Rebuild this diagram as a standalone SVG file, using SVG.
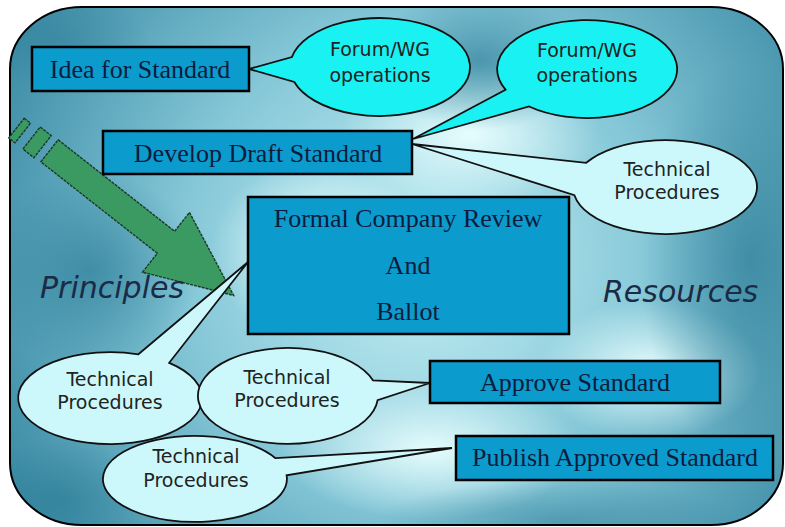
<svg xmlns="http://www.w3.org/2000/svg" width="785" height="527" viewBox="0 0 785 527">
<defs>
<radialGradient id="bg" cx="420" cy="260" r="470" gradientUnits="userSpaceOnUse">
<stop offset="0" stop-color="#c4eff4"/>
<stop offset="0.5" stop-color="#86c8d8"/>
<stop offset="1" stop-color="#3a8aa4"/>
</radialGradient>
<radialGradient id="lt" cx="0.5" cy="0.5" r="0.5">
<stop offset="0" stop-color="#eaffff" stop-opacity="0.95"/>
<stop offset="1" stop-color="#eaffff" stop-opacity="0"/>
</radialGradient>
<radialGradient id="dk" cx="0.5" cy="0.5" r="0.5">
<stop offset="0" stop-color="#2f7f99" stop-opacity="0.7"/>
<stop offset="1" stop-color="#2f7f99" stop-opacity="0"/>
</radialGradient>
<clipPath id="panelClip"><rect x="10" y="7" width="773" height="518" rx="72" ry="62"/></clipPath>
<style>
.box{fill:#0b9bcc;stroke:#000;stroke-width:2.5}
.btxt{font-family:"Liberation Serif","Times New Roman",serif;font-size:26px;fill:#0d1b3e;text-anchor:middle}
.forum{fill:#19f1f3;stroke:#111;stroke-width:1.8}
.tech{fill:#cdf8fb;stroke:#111;stroke-width:1.8}
.ctxt{font-family:"DejaVu Sans","Liberation Sans",sans-serif;font-size:19px;fill:#222;text-anchor:middle}
.big{font-family:"DejaVu Sans","Liberation Sans",sans-serif;font-size:30px;font-style:italic;fill:#1b2b45}
.arrow{fill:#3a9a62;stroke:#1a3a26;stroke-width:1.4;stroke-dasharray:3 1}
</style>
</defs>

<g id="panel">
<rect x="10" y="7" width="773" height="518" rx="72" ry="62" fill="url(#bg)"/>
<g clip-path="url(#panelClip)">
<ellipse cx="470" cy="135" rx="130" ry="70" fill="url(#lt)"/>
<ellipse cx="320" cy="250" rx="110" ry="90" fill="url(#lt)"/>
<ellipse cx="430" cy="450" rx="150" ry="70" fill="url(#lt)"/>
<ellipse cx="650" cy="370" rx="110" ry="70" fill="url(#lt)"/>
<ellipse cx="480" cy="60" rx="110" ry="70" fill="url(#dk)"/>
<ellipse cx="60" cy="40" rx="90" ry="50" fill="url(#dk)" opacity="0.7"/>
<ellipse cx="90" cy="270" rx="110" ry="100" fill="url(#dk)"/>
<ellipse cx="750" cy="260" rx="110" ry="200" fill="url(#dk)"/>
<ellipse cx="60" cy="500" rx="90" ry="60" fill="url(#dk)"/>
<ellipse cx="560" cy="520" rx="180" ry="40" fill="url(#dk)" opacity="0.7"/>
</g>
<rect x="10" y="7" width="773" height="518" rx="72" ry="62" fill="none" stroke="#000" stroke-width="2"/>
</g>

<g id="connectors">
<g id="green-arrow" transform="matrix(0.787 0.618 -0.618 0.787 0 0)">
<polygon class="arrow" points="92,78 100,78 100,103 92,103"/>
<polygon class="arrow" points="110,75 124,75 124,103 110,103"/>
<polygon class="arrow" points="132,74 280,74 280,50 366,88 280,126 280,102 132,102"/>
</g>
</g>

<g id="callout-forum-1">
<path class="forum" d="M 291.9 57 A 90 49 0 1 1 294.3 82 L 249 69 Z"/>
<text class="ctxt" x="380" y="56">Forum/WG</text>
<text class="ctxt" x="380" y="82">operations</text>
</g>

<g id="callout-forum-2">
<path class="forum" d="M 505.5 89.7 A 90 49 0 1 1 529.1 106.5 L 413 139 Z"/>
<text class="ctxt" x="587" y="57">Forum/WG</text>
<text class="ctxt" x="587" y="82">operations</text>
</g>

<g id="callout-tech-1">
<path class="tech" d="M 586.2 162.8 A 92 47 0 1 1 574.4 195.2 L 412 144 Z"/>
<text class="ctxt" x="667" y="176">Technical</text>
<text class="ctxt" x="667" y="199">Procedures</text>
</g>

<g id="node-idea">
<rect class="box" x="32" y="47" width="217" height="44"/>
<text class="btxt" x="140" y="78">Idea for Standard</text>
</g>

<g id="node-develop">
<rect class="box" x="103" y="131" width="309" height="43"/>
<text class="btxt" x="258" y="162">Develop Draft Standard</text>
</g>

<g id="callout-tech-2">
<path class="tech" d="M 169.2 362.8 A 92 46 0 1 1 138.4 354.3 L 248 262 Z"/>
<text class="ctxt" x="110" y="386">Technical</text>
<text class="ctxt" x="110" y="409">Procedures</text>
</g>

<g id="node-formal">
<rect class="box" x="248" y="197" width="321" height="137"/>
<text class="btxt" x="408" y="227">Formal Company Review</text>
<text class="btxt" x="408" y="274">And</text>
<text class="btxt" x="408" y="320">Ballot</text>
</g>

<g id="callout-tech-3">
<path class="tech" d="M 377.6 400.2 A 90 48 0 1 1 373.1 380.4 L 430 383 Z"/>
<text class="ctxt" x="287" y="384">Technical</text>
<text class="ctxt" x="287" y="407">Procedures</text>
</g>

<g id="callout-tech-4">
<path class="tech" d="M 286.6 475.3 A 92 43 0 1 1 275.5 458.2 L 452 448 Z"/>
<text class="ctxt" x="196" y="463">Technical</text>
<text class="ctxt" x="196" y="487">Procedures</text>
</g>

<g id="node-approve">
<rect class="box" x="430" y="361" width="290" height="42"/>
<text class="btxt" x="575" y="391">Approve Standard</text>
</g>

<g id="node-publish">
<rect class="box" x="456" y="436" width="317" height="44"/>
<text class="btxt" x="615" y="466">Publish Approved Standard</text>
</g>

<g id="labels">
<text class="big" x="40" y="298">Principles</text>
<text class="big" x="603" y="302">Resources</text>
</g>
</svg>
